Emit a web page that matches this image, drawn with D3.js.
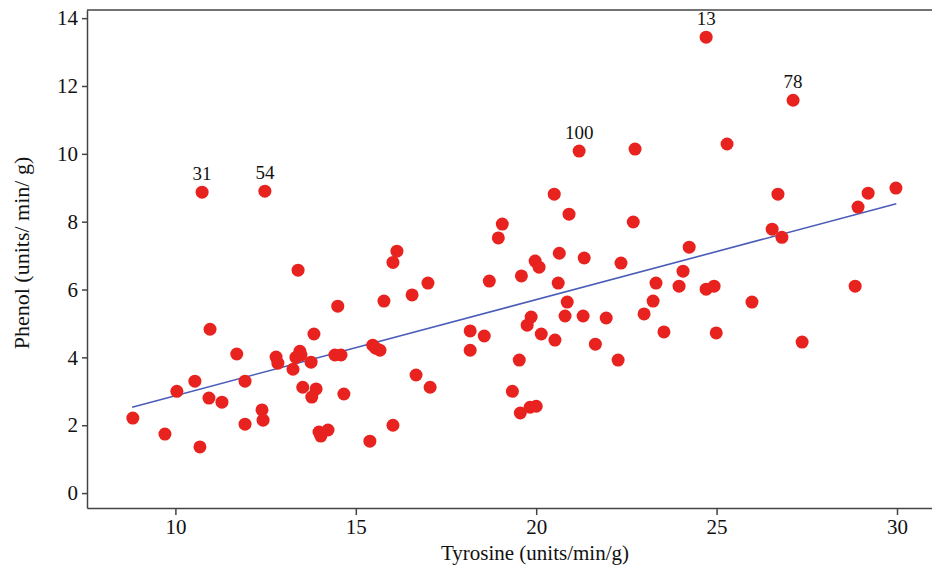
<!DOCTYPE html>
<html>
<head>
<meta charset="utf-8">
<script src="https://cdn.jsdelivr.net/npm/d3@7"></script>
<style>
  body { margin: 0; background: #fff; }
  text { font-family: "Liberation Serif", "Times New Roman", serif; fill: #111; }
</style>
</head>
<body>
<svg id="chart" width="932" height="565"></svg>
<script>
// tyrosine (x) and phenol (y) per case
var tyrosine = [8.82, 9.71, 10.04, 10.54, 10.68, 10.74, 10.93, 10.96, 11.29, 11.7,
  11.93, 11.93, 12.4, 12.43, 12.48, 12.79, 12.84, 13.26, 13.34, 13.4,
  13.45, 13.48, 13.53, 13.76, 13.78, 13.84, 13.9, 13.98, 14.03, 14.23,
  14.42, 14.59, 14.5, 14.67, 15.39, 15.47, 15.55, 15.67, 15.78, 16.03,
  16.03, 16.14, 16.56, 16.67, 17.0, 17.06, 18.17, 18.17, 18.56, 18.7,
  18.95, 19.06, 19.34, 19.53, 19.56, 19.59, 19.75, 19.86, 19.83, 20.0,
  19.97, 20.08, 20.14, 20.5, 20.52, 20.61, 20.64, 20.8, 20.86, 20.91,
  21.19, 21.3, 21.33, 21.64, 21.94, 22.27, 22.35, 22.69, 22.74, 22.99,
  23.24, 23.32, 23.54, 23.96, 24.07, 24.24, 24.71, 24.71, 24.93, 24.99,
  25.29, 25.98, 26.54, 26.7, 26.81, 27.12, 27.37, 28.84, 28.92, 29.2, 29.97];
var phenol = [2.21, 1.74, 3.0, 3.3, 1.36, 8.87, 2.8, 4.83, 2.68, 4.1,
  3.3, 2.03, 2.45, 2.15, 8.9, 4.01, 3.83, 3.65, 4.0, 6.57,
  4.18, 4.07, 3.12, 3.86, 2.83, 4.69, 3.07, 1.8, 1.68, 1.86,
  4.07, 4.07, 5.51, 2.92, 1.53, 4.36, 4.27, 4.21, 5.66, 2.0,
  6.8, 7.13, 5.84, 3.48, 6.19, 3.12, 4.78, 4.21, 4.63, 6.25,
  7.52, 7.93, 3.0, 3.92, 2.36, 6.4, 4.95, 5.19, 2.53, 2.56,
  6.84, 6.66, 4.69, 8.81, 4.51, 6.19, 7.07, 5.22, 5.63, 8.22,
  10.08, 5.22, 6.93, 4.39, 5.16, 3.92, 6.78, 7.99, 10.14, 5.28,
  5.66, 6.19, 4.75, 6.1, 6.54, 7.25, 13.44, 6.01, 6.1, 4.72,
  10.29, 5.63, 7.78, 8.81, 7.54, 11.58, 4.45, 6.1, 8.43, 8.84, 8.99];

// outlying cases that carry their case number
var labelIndex = [5, 14, 70, 86, 95];
var labelText = ["31", "54", "100", "13", "78"];

// fitted line, two ends
var fitX = [8.8, 29.98];
var fitY = [2.53, 8.53];

var xTicks = [10, 15, 20, 25, 30];
var yTicks = [0, 2, 4, 6, 8, 10, 12, 14];

var svg = d3.select("#chart");
var plotLeft = 87, plotRight = 932, plotTop = 10, plotBottom = 508;

var x = d3.scaleLinear().domain([7.55, 30.97]).range([plotLeft, plotRight]);
var y = d3.scaleLinear().domain([-0.44, 14.24]).range([plotBottom, plotTop]);

// top frame line
svg.append("line")
  .attr("x1", plotLeft).attr("x2", plotRight)
  .attr("y1", plotTop).attr("y2", plotTop)
  .attr("stroke", "#444").attr("stroke-width", 1.5);

var xAxis = svg.append("g")
  .attr("transform", "translate(0," + plotBottom + ")")
  .call(d3.axisBottom(x).tickValues(xTicks).tickSize(7).tickSizeOuter(0).tickPadding(4));
xAxis.selectAll("text").style("font-size", "21px").style("font-family", "Liberation Serif");

var yAxis = svg.append("g")
  .attr("transform", "translate(" + plotLeft + ",0)")
  .call(d3.axisLeft(y).tickValues(yTicks).tickSize(5).tickSizeOuter(0).tickPadding(4));
yAxis.selectAll("text").style("font-size", "21px").style("font-family", "Liberation Serif");

svg.selectAll(".domain, .tick line").attr("stroke", "#444").attr("stroke-width", 1.5);

// regression line
svg.append("line")
  .attr("x1", x(fitX[0])).attr("y1", y(fitY[0]))
  .attr("x2", x(fitX[1])).attr("y2", y(fitY[1]))
  .attr("stroke", "#4a5cb8").attr("stroke-width", 1.6);

// points
svg.append("g").selectAll("circle")
  .data(d3.range(tyrosine.length))
  .join("circle")
  .attr("cx", function(i) { return x(tyrosine[i]); })
  .attr("cy", function(i) { return y(phenol[i]); })
  .attr("r", 6.5)
  .attr("fill", "#e8221f");

// case labels
svg.append("g").selectAll("text")
  .data(labelIndex)
  .join("text")
  .attr("x", function(i) { return x(tyrosine[i]); })
  .attr("y", function(i) { return y(phenol[i]) - 12; })
  .attr("text-anchor", "middle")
  .style("font-size", "19px")
  .text(function(d, k) { return labelText[k]; });

// axis titles
svg.append("text")
  .attr("x", 535).attr("y", 560)
  .attr("text-anchor", "middle")
  .style("font-size", "21px")
  .text("Tyrosine (units/min/g)");

svg.append("text")
  .attr("transform", "translate(29,253) rotate(-90)")
  .attr("text-anchor", "middle")
  .style("font-size", "22px")
  .text("Phenol (units/ min/ g)");
</script>
</body>
</html>
